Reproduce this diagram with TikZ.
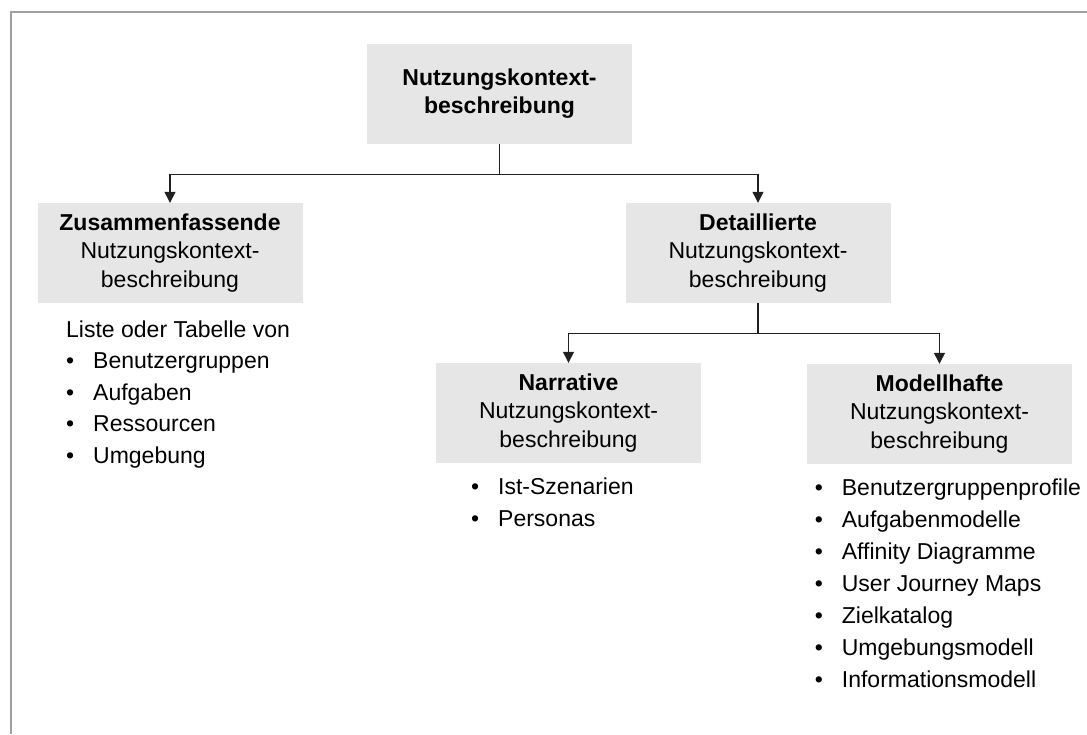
\documentclass[tikz,border=0pt]{standalone}
\usepackage{fontspec}
\setmainfont{Liberation Sans}
\usetikzlibrary{arrows.meta}
\definecolor{boxgray}{HTML}{E6E6E6}
\definecolor{framegray}{HTML}{A0A0A0}
\definecolor{linecol}{HTML}{202020}
\newcommand\fsz{\fontsize{23}{28.5}\selectfont}
\newcommand\bul{\makebox[27pt][l]{•}}
\begin{document}
\begin{tikzpicture}[x=1pt,y=-1pt,
  every node/.style={font=\fsz, inner sep=0pt, text=black},
  box/.style={fill=boxgray, minimum width=265pt, minimum height=100pt, align=center},
  item/.style={anchor=base west},
  conn/.style={line width=1.3pt, draw=linecol},
  arr/.style={conn, -{Triangle[width=11pt,length=11pt]}},
]
\useasboundingbox (0,0) rectangle (1087,734);
\draw[framegray, line width=2pt] (11,734) -- (11,12) -- (1087,12);

% boxes
\node[box, font=\fsz\bfseries] (top) at (499.5,93.5) {Nutzungskontext-\\beschreibung};
\node[box] (zus) at (170,253) {\textbf{Zusammenfassende}\\Nutzungskontext-\\beschreibung};
\node[box] (det) at (758,253) {\textbf{Detaillierte}\\Nutzungskontext-\\beschreibung};
\node[box] (nar) at (568.5,413) {\textbf{Narrative}\\Nutzungskontext-\\beschreibung};
\node[box] (mod) at (939.5,414) {\textbf{Modellhafte}\\Nutzungskontext-\\beschreibung};

% connectors
\draw[conn] (top.south) -- ++(0,31) coordinate (j1);
\draw[arr] (j1) -| (zus.north);
\draw[arr] (j1) -| (det.north);
\draw[conn] (det.south) -- ++(0,30) coordinate (j2);
\draw[arr] (j2) -| (nar.north);
\draw[arr] (j2) -| (mod.north);

% lists
\node[item] (lhead) at (66,337) {Liste oder Tabelle von};
\foreach \t [count=\i] in {Benutzergruppen, Aufgaben, Ressourcen, Umgebung}
  \node[item] (l\i) at (66,337+31.6*\i) {\bul\t};
\foreach \t [count=\i from 0] in {Ist-Szenarien, Personas}
  \node[item] (n\i) at (471,494+32.5*\i) {\bul\t};
\foreach \t [count=\i from 0] in {Benutzergruppenprofile, Aufgabenmodelle, Affinity Diagramme, User Journey Maps, Zielkatalog, Umgebungsmodell, Informationsmodell}
  \node[item] (m\i) at (814.7,495+32*\i) {\bul\t};
\end{tikzpicture}
\end{document}
